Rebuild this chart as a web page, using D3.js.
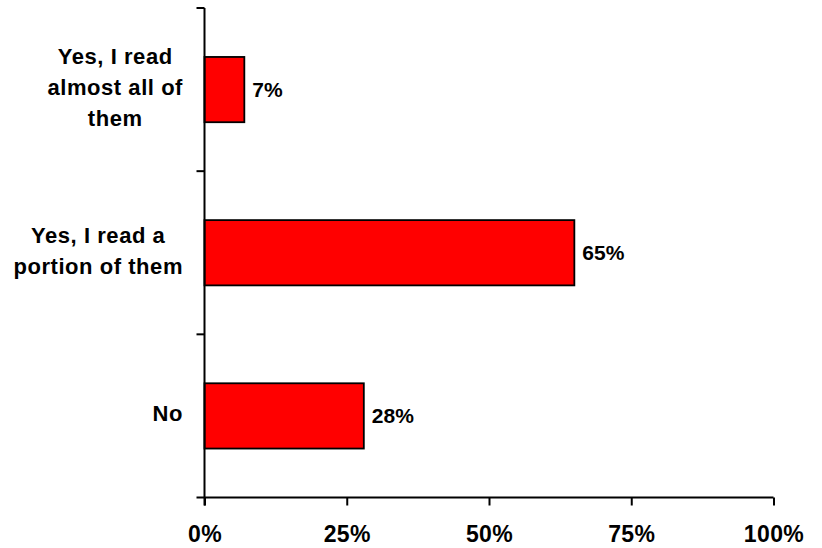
<!DOCTYPE html>
<html>
<head>
<meta charset="utf-8">
<script src="https://cdn.jsdelivr.net/npm/d3@7"></script>
<style>
  html, body { margin: 0; padding: 0; background: #fff; }
  svg { display: block; }
  text { font-family: "Liberation Sans", Arial, sans-serif; font-weight: bold; fill: #000; }
</style>
</head>
<body>
<svg id="chart" width="822" height="548"></svg>
<script>
const categories = ["Yes, I read almost all of them", "Yes, I read a portion of them", "No"];
const categoryLines = [["Yes, I read", "almost all of", "them"], ["Yes, I read a", "portion of them"], ["No"]];
const values = [0.07, 0.65, 0.28];
const xTicks = [0, 0.25, 0.5, 0.75, 1];

const svg = d3.select("#chart");
const x0 = 204.5, x1 = 773.5, yTop = 8, yBot = 497.5, tick = 8;

const x = d3.scaleLinear().domain([0, 1]).range([x0, x1]);
const y = d3.scaleBand().domain(categories).range([yTop, yBot]).paddingInner(0.6).paddingOuter(0.3);

// bars
svg.append("g").selectAll("rect").data(categories).join("rect")
  .attr("x", x(0))
  .attr("y", d => y(d))
  .attr("width", (d, i) => x(values[i]) - x(0))
  .attr("height", y.bandwidth())
  .attr("fill", "#ff0000")
  .attr("stroke", "#000")
  .attr("stroke-width", 1.8);

// x axis
const xAxis = svg.append("g").attr("transform", `translate(0,${yBot})`)
  .call(d3.axisBottom(x).tickValues(xTicks).tickFormat(d3.format(".0%")).tickSize(tick).tickSizeOuter(0));
xAxis.select(".domain").remove();
xAxis.append("line").attr("x1", x0 - tick).attr("x2", x1).attr("y1", 0).attr("y2", 0)
  .attr("stroke", "#000").attr("stroke-width", 2);
xAxis.selectAll(".tick line").attr("stroke", "#000").attr("stroke-width", 2);
xAxis.selectAll(".tick text").attr("y", 0).attr("dy", null).attr("transform", "translate(0,44)")
  .style("font-size", "23px").style("letter-spacing", "0.4px")
  .style("font-family", "'Liberation Sans', Arial, sans-serif").style("font-weight", "bold");

// y axis line with ticks at band boundaries
const yBounds = [yTop, yTop + y.step() * 1, yTop + y.step() * 2, yBot];
const yAxis = svg.append("g");
yAxis.append("line").attr("x1", x0).attr("x2", x0).attr("y1", yTop).attr("y2", yBot + tick)
  .attr("stroke", "#000").attr("stroke-width", 2);
yAxis.selectAll("line.t").data(yBounds.slice(0, 3)).join("line").attr("class", "t")
  .attr("x1", x0 - tick).attr("x2", x0).attr("y1", d => d).attr("y2", d => d)
  .attr("stroke", "#000").attr("stroke-width", 2);

// category labels: block right-aligned, lines centered in the block
const rightEdge = 183, lineH = 31, fs = 22;
categories.forEach((c, i) => {
  const lines = categoryLines[i];
  const g = svg.append("g");
  const cy = y(c) + y.bandwidth() / 2;
  const texts = g.selectAll("text").data(lines).join("text")
    .attr("text-anchor", "middle")
    .style("font-size", fs + "px")
    .style("letter-spacing", "0.55px")
    .attr("y", (d, j) => cy + (j - (lines.length - 1) / 2) * lineH + fs * 0.25)
    .text(d => d);
  let maxW = 0;
  texts.each(function () { maxW = Math.max(maxW, this.getComputedTextLength()); });
  texts.attr("x", rightEdge - maxW / 2);
});

// value labels
svg.append("g").selectAll("text").data(categories).join("text")
  .attr("x", (d, i) => x(values[i]) + 8)
  .attr("y", d => y(d) + y.bandwidth() / 2 + 7)
  .style("font-size", "21px")
  .text((d, i) => d3.format(".0%")(values[i]));
</script>
</body>
</html>
